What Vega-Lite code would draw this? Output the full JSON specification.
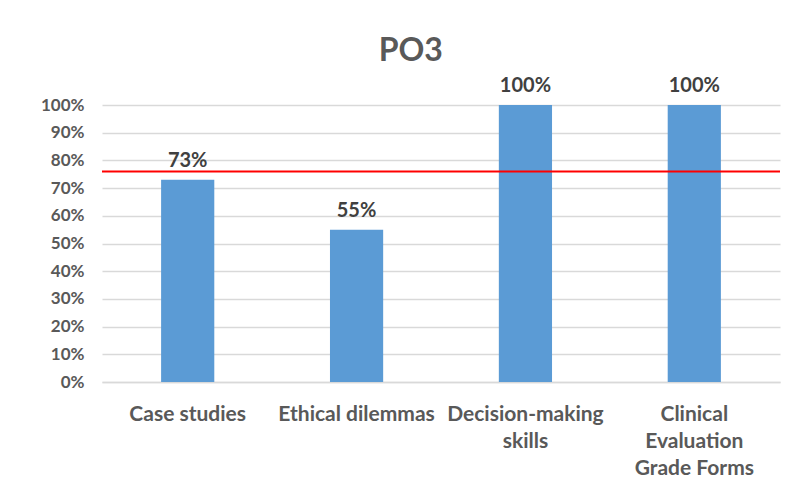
{
  "$schema": "https://vega.github.io/schema/vega-lite/v6.json",
  "width": 678,
  "height": 277,
  "autosize": {"type": "none"},
  "padding": {"left": 102, "top": 105, "right": 20, "bottom": 118},
  "background": "white",
  "title": {"text": "PO3", "fontSize": 32, "font": "Lato", "fontWeight": "bold", "color": "#595959", "anchor": "middle", "frame": "bounds", "offset": 8},
  "config": {"view": {"stroke": null}, "font": "Lato"},
  "datasets": {
    "bars": [
      {"category": "Case studies", "value": 0.73},
      {"category": "Ethical dilemmas", "value": 0.55},
      {"category": "Decision-making skills", "value": 1.0},
      {"category": "Clinical Evaluation Grade Forms", "value": 1.0}
    ],
    "target": [{"target": 0.76}]
  },
  "layer": [
    {
      "data": {"name": "bars"},
      "mark": {"type": "bar", "color": "#5B9BD5"},
      "encoding": {
        "x": {"field": "category", "type": "nominal", "sort": null, "title": null,
          "scale": {"paddingInner": 0.685, "paddingOuter": 0.35},
          "axis": {"labelAngle": 0, "ticks": false, "domainColor": "#D9D9D9", "domainWidth": 1.5, "labelPadding": 21, "labelFontSize": 21, "labelFontWeight": "bold", "labelColor": "#595959", "labelLineHeight": 27, "labelFont": "Lato", "labelOverlap": false,
            "labelExpr": "datum.label == 'Decision-making skills' ? ['Decision-making', 'skills'] : datum.label == 'Clinical Evaluation Grade Forms' ? ['Clinical', 'Evaluation', 'Grade Forms'] : datum.label"}},
        "y": {"field": "value", "type": "quantitative", "title": null,
          "scale": {"domain": [0, 1]},
          "axis": {"format": ".0%", "values": [0, 0.1, 0.2, 0.3, 0.4, 0.5, 0.6, 0.7, 0.8, 0.9, 1], "labelOverlap": false, "domain": false, "ticks": false, "gridColor": "#D9D9D9", "gridWidth": 1.5, "labelFontSize": 17, "labelFont": "Lato", "labelFontWeight": "bold", "labelColor": "#595959", "labelPadding": 18}}
      }
    },
    {
      "data": {"name": "bars"},
      "mark": {"type": "text", "baseline": "bottom", "dy": -9, "fontSize": 20, "font": "Lato", "fontWeight": "bold", "color": "#404040"},
      "encoding": {
        "x": {"field": "category", "type": "nominal", "sort": null, "title": null},
        "y": {"field": "value", "type": "quantitative", "title": null,
          "axis": {"format": ".0%", "values": [0, 0.1, 0.2, 0.3, 0.4, 0.5, 0.6, 0.7, 0.8, 0.9, 1], "labelOverlap": false, "domain": false, "ticks": false, "gridColor": "#D9D9D9", "gridWidth": 1.5, "labelFontSize": 17, "labelFont": "Lato", "labelFontWeight": "bold", "labelColor": "#595959", "labelPadding": 18}},
        "text": {"field": "value", "type": "quantitative", "format": ".0%"}
      }
    },
    {
      "data": {"name": "target"},
      "mark": {"type": "rule", "color": "#FF0000", "strokeWidth": 2},
      "encoding": {
        "y": {"field": "target", "type": "quantitative", "title": null,
          "axis": {"format": ".0%", "values": [0, 0.1, 0.2, 0.3, 0.4, 0.5, 0.6, 0.7, 0.8, 0.9, 1], "labelOverlap": false, "domain": false, "ticks": false, "gridColor": "#D9D9D9", "gridWidth": 1.5, "labelFontSize": 17, "labelFont": "Lato", "labelFontWeight": "bold", "labelColor": "#595959", "labelPadding": 18}}
      }
    }
  ]
}
